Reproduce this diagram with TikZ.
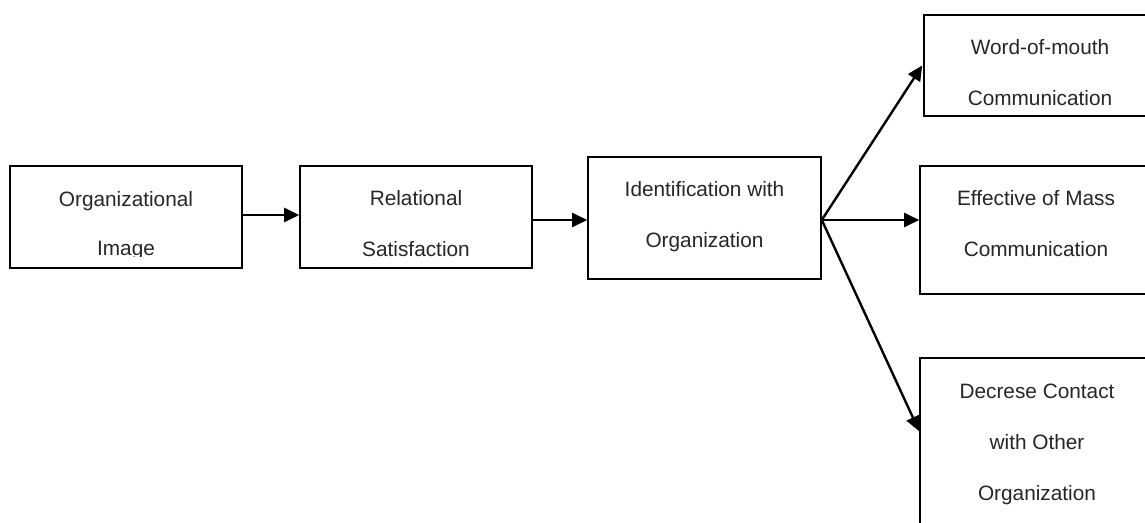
\documentclass[tikz,border=0pt]{standalone}
\usepackage{fontspec}
\setmainfont{Liberation Sans}
\usetikzlibrary{arrows.meta,calc}
\definecolor{txtgray}{HTML}{262626}
\tikzset{
  box/.style={draw=black, line width=1.6pt, rectangle, inner sep=0pt, minimum width=232pt},
  txt/.style={anchor=base, align=center, inner sep=0pt, text=txtgray, font=\fontsize{20.8}{51}\selectfont},
  link/.style={draw=black, line width=2.4pt, -{Triangle[length=15pt,width=14pt]}}
}
\begin{document}
\begin{tikzpicture}[x=1pt,y=-1pt]
\useasboundingbox (0,0) rectangle (1145,522);
\clip (0,0) rectangle (1145,522);
% boxes
\node[box, minimum height=102pt] (b1) at (126,217) {};
\node[box, minimum height=102pt] (b2) at (416,217) {};
\node[box, minimum width=233pt, minimum height=122pt] (b3) at (704.5,218) {};
\node[box, minimum height=101pt] (b4) at (1040,65.5) {};
\node[box, minimum height=128pt] (b5) at (1036,230) {};
\node[box, minimum width=234pt, minimum height=200pt] (b6) at (1037,458) {};
% texts (anchored at the baseline of the last line)
\begin{scope}
\clip (10,166) rectangle (242,256.5);
\node[txt, font=\fontsize{20.8}{48.5}\selectfont] (t1) at (126,255) {Organizational\\Image};
\end{scope}
\node[txt] (t2) at (416,256) {Relational\\Satisfaction};
\node[txt] (t3) at (704.5,247) {Identification with\\Organization};
\node[txt] (t4) at (1040,105) {Word-of-mouth\\Communication};
\node[txt] (t5) at (1036,256) {Effective of Mass\\Communication};
\node[txt] (t6) at (1037,500) {Decrese Contact\\with Other\\Organization};
% connectors
\coordinate (a1) at ($(b1.east)+(0,-2)$);
\coordinate (a2) at ($(b2.east)+(0,3)$);
\coordinate (s) at ($(b3.east)+(0,2)$);
\draw[link] (a1) -- (b2.west |- a1);
\draw[link] (a2) -- (b3.west |- a2);
\draw[link] (s) -- ($(b4.west)+(-1,0)$);
\draw[link] (s) -- (b5.west |- s);
\draw[link] (s) -- ($(b6.north west)+(0,74)$);
\end{tikzpicture}
\end{document}
